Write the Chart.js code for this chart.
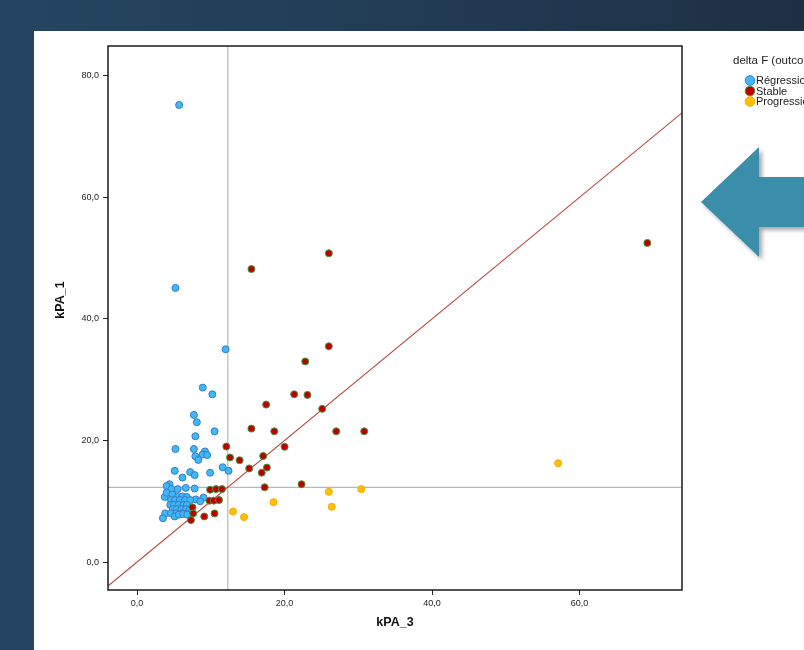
<!DOCTYPE html>
<html>
<head>
<meta charset="utf-8">
<script src="https://cdn.jsdelivr.net/npm/chart.js@4.4.1/dist/chart.umd.min.js"></script>
<style>
  html, body { margin: 0; padding: 0; }
  body {
    width: 804px; height: 650px; overflow: hidden; position: relative;
    background: linear-gradient(to right, #244560 0%, #223c55 50%, #1e2f44 100%);
    font-family: "Liberation Sans", Arial, sans-serif;
  }
  #panel { position: absolute; left: 34px; top: 31px; width: 770px; height: 619px; background: #fff; }
  #chart { position: absolute; left: 0; top: 0; }
  #arrow { position: absolute; left: 0; top: 0; pointer-events: none; }
</style>
</head>
<body>
<div id="panel"></div>
<canvas id="chart" width="804" height="650"></canvas>
<svg id="arrow" width="804" height="650">
  <defs>
    <filter id="sh" x="-20%" y="-20%" width="150%" height="150%">
      <feDropShadow dx="3" dy="3" stdDeviation="2" flood-color="#000" flood-opacity="0.35"/>
    </filter>
  </defs>
  <polygon points="701,202 759,147 759,177 806,177 806,227 759,227 759,257" fill="#3b8ea9" filter="url(#sh)"/>
</svg>
<script>
// delta F (outcome) groups
const regressionX = [5.7, 5.2, 12.0, 8.9, 10.2, 7.7, 8.1, 10.5, 7.9, 5.2, 7.7, 9.2, 8.9, 9.5, 7.9, 8.3, 11.6, 12.4, 5.1, 7.2, 7.8, 6.15, 9.9,
    4.4, 4.0, 4.65, 5.5, 6.6, 7.8,
    3.75, 4.0, 4.8, 5.5, 6.15, 6.75, 9.0, 7.95, 8.55,
    4.6, 5.15, 5.8, 6.5, 7.2,
    4.5, 5.0, 5.6, 6.3, 6.75,
    4.85, 5.4, 6.0, 6.65, 7.1,
    3.8, 4.6, 5.3, 6.1, 6.65,
    3.5, 5.1, 5.65, 6.25, 6.8];
const regressionY = [75.2, 45.1, 35.0, 28.7, 27.6, 24.2, 23.0, 21.5, 20.7, 18.6, 18.6, 18.2, 17.7, 17.6, 17.4, 16.8, 15.6, 15.0, 15.0, 14.8, 14.3, 13.9, 14.7,
    12.8, 12.5, 12.0, 12.0, 12.2, 12.1,
    10.7, 11.4, 11.1, 10.7, 10.8, 10.7, 10.6, 10.3, 10.0,
    10.2, 10.2, 10.2, 10.2, 10.2,
    9.4, 9.4, 9.4, 9.4, 9.4,
    8.7, 8.7, 8.7, 8.7, 8.7,
    8.0, 8.0, 8.0, 8.0, 8.0,
    7.2, 7.5, 7.8, 7.9, 7.8];

const stableX = [69.2, 26.0, 15.5, 26.0, 22.8, 21.3, 23.1, 17.5, 25.1, 15.5, 18.6, 27.0, 30.8, 12.1, 20.0, 12.6, 13.9, 17.1,
    15.2, 17.6, 16.9, 17.3, 22.3, 9.9, 10.7, 11.5, 9.8, 10.4, 11.1, 7.5, 7.6, 7.3, 9.1, 10.5];
const stableY = [52.5, 50.8, 48.2, 35.5, 33.0, 27.6, 27.5, 25.9, 25.2, 21.95, 21.5, 21.5, 21.5, 19.0, 18.95, 17.2, 16.75, 17.45,
    15.4, 15.55, 14.7, 12.3, 12.8, 11.9, 12.0, 12.0, 10.1, 10.1, 10.2, 9.0, 8.0, 6.9, 7.5, 8.0];

const progressionX = [57.1, 26.0, 30.4, 26.4, 18.5, 13.0, 14.5];
const progressionY = [16.25, 11.55, 12.0, 9.1, 9.85, 8.3, 7.4];

const groupLabels = ['Régression', 'Stable', 'Progression'];
const legendTitle = 'delta F (outcome)';

// reference lines
const refValue = 12.3;
const xTicks = [0, 20, 40, 60];
const yTicks = [0, 20, 40, 60, 80];

function toPoints(xs, ys) {
    return xs.map((x, i) => ({ x: x, y: ys[i] }));
}

function fmt(v) {
    return v.toFixed(1).replace('.', ',');
}

const colors = [
    { fill: '#3dbaf5', border: '#3a78c8' },
    { fill: '#c00000', border: '#3b9a3b' },
    { fill: '#ffc000', border: '#f5a800' }
];

const fontFamily = '"Liberation Sans", Arial, sans-serif';

const framePlugin = {
    id: 'frame',
    afterDraw(chart) {
        const ctx = chart.ctx;
        const a = chart.chartArea;
        ctx.save();
        ctx.strokeStyle = '#1a1a1a';
        ctx.lineWidth = 1.5;
        ctx.strokeRect(a.left, a.top, a.right - a.left, a.bottom - a.top);

        // y axis title, sits a bit above the axis centre
        ctx.save();
        ctx.translate(61, 300);
        ctx.rotate(-Math.PI / 2);
        ctx.font = 'bold 12.5px ' + fontFamily;
        ctx.fillStyle = '#111';
        ctx.textAlign = 'center';
        ctx.textBaseline = 'middle';
        ctx.fillText('kPA_1', 0, 0);
        ctx.restore();

        // legend
        ctx.fillStyle = '#222';
        ctx.textBaseline = 'middle';
        ctx.textAlign = 'left';
        ctx.font = '11.5px ' + fontFamily;
        ctx.fillText(legendTitle, 733, 61);
        ctx.font = '11px ' + fontFamily;
        const ys = [80.5, 91, 101.5];
        groupLabels.forEach((lab, i) => {
            ctx.beginPath();
            ctx.arc(750, ys[i], 4.8, 0, Math.PI * 2);
            ctx.fillStyle = colors[i].fill;
            ctx.fill();
            ctx.lineWidth = 1;
            ctx.strokeStyle = colors[i].border;
            ctx.stroke();
            ctx.fillStyle = '#222';
            ctx.fillText(lab, 756, ys[i] + 0.5);
        });
        ctx.restore();
    }
};

const tickFont = { family: fontFamily, size: 9 };
const titleFont = { family: fontFamily, size: 12.5, weight: 'bold' };

new Chart(document.getElementById('chart'), {
    type: 'scatter',
    data: {
        datasets: [
            {
                type: 'line', data: [{ x: refValue, y: -10 }, { x: refValue, y: 90 }],
                borderColor: '#b8b8b8', borderWidth: 1.2, pointRadius: 0, clip: 0, order: 10
            },
            {
                type: 'line', data: [{ x: -10, y: refValue }, { x: 90, y: refValue }],
                borderColor: '#b8b8b8', borderWidth: 1.2, pointRadius: 0, clip: 0, order: 10
            },
            {
                type: 'line', data: [{ x: -10, y: -10 }, { x: 90, y: 90 }],
                borderColor: '#b5453f', borderWidth: 1.1, pointRadius: 0, clip: 0, order: 9
            },
            {
                label: groupLabels[0], data: toPoints(regressionX, regressionY),
                backgroundColor: colors[0].fill, borderColor: colors[0].border,
                pointRadius: 3.5, borderWidth: 1, order: 3
            },
            {
                label: groupLabels[1], data: toPoints(stableX, stableY),
                backgroundColor: colors[1].fill, borderColor: colors[1].border,
                pointRadius: 3.5, borderWidth: 1, order: 2
            },
            {
                label: groupLabels[2], data: toPoints(progressionX, progressionY),
                backgroundColor: colors[2].fill, borderColor: colors[2].border,
                pointRadius: 3.5, borderWidth: 1, order: 1
            }
        ]
    },
    options: {
        responsive: false,
        animation: false,
        devicePixelRatio: 1,
        layout: { padding: { left: 50, top: 46, right: 122, bottom: 0 } },
        plugins: { legend: { display: false }, tooltip: { enabled: false } },
        scales: {
            x: {
                type: 'linear', min: -3.95, max: 73.9,
                afterBuildTicks: axis => { axis.ticks = xTicks.map(v => ({ value: v })); },
                afterFit: axis => { axis.height = 60; },
                grid: { drawOnChartArea: false, drawTicks: true, tickLength: 5, color: '#222', lineWidth: 1 },
                border: { display: false },
                ticks: { font: tickFont, color: '#222', padding: 3, maxRotation: 0, callback: v => fmt(v) },
                title: { display: true, text: 'kPA_3', font: titleFont, color: '#111', padding: { top: 4, bottom: 20 } }
            },
            y: {
                type: 'linear', min: -4.6, max: 84.9,
                afterBuildTicks: axis => { axis.ticks = yTicks.map(v => ({ value: v })); },
                afterFit: axis => { axis.width = 58; },
                grid: { drawOnChartArea: false, drawTicks: true, tickLength: 5, color: '#222', lineWidth: 1 },
                border: { display: false },
                ticks: { font: tickFont, color: '#222', padding: 4, callback: v => fmt(v) },
                title: { display: false }
            }
        }
    },
    plugins: [framePlugin]
});
</script>
</body>
</html>
